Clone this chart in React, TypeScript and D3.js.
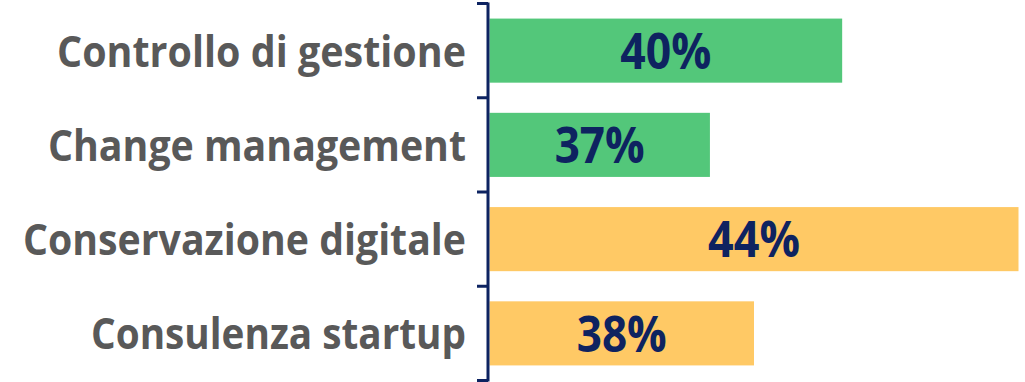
import React, { useEffect, useRef } from 'react';
import * as d3 from 'd3';

const categories = ['Controllo di gestione', 'Change management', 'Conservazione digitale', 'Consulenza startup'];
const values = [40, 37, 44, 38];
const groups = ['green', 'green', 'yellow', 'yellow'];
// label widths (Calibri is not installed, so text is squeezed to fit)
const labelWidths = [409, 418, 443, 375];
const valueWidths = [91, 90, 92, 90];

const colors: Record<string, string> = { green: '#53c77a', yellow: '#ffc965' };

const App = () => {
  const chartRef = useRef<SVGSVGElement>(null);

  useEffect(() => {
    if (!chartRef.current) return;
    const svg = d3.select(chartRef.current);
    svg.selectAll('*').remove();

    const width = 1025;
    const height = 382;
    const axisX = 488;

    const y = d3.scaleBand<string>()
      .domain(categories)
      .range([3.5, 380.5]);

    const yBar = d3.scaleBand<string>()
      .domain(categories)
      .range([3.5, 380.5])
      .paddingInner(0.32)
      .paddingOuter(0.16);

    const x = d3.scaleLinear()
      .domain([32, 44])
      .range([axisX + 1.5, 1018.5]);

    const data = categories.map((c, i) => ({ cat: c, value: values[i], group: groups[i], lw: labelWidths[i], vw: valueWidths[i] }));

    // bars
    svg.selectAll('.bar')
      .data(data)
      .enter().append('rect')
      .attr('class', 'bar')
      .attr('x', x(32))
      .attr('y', d => yBar(d.cat)!)
      .attr('width', d => x(d.value) - x(32))
      .attr('height', yBar.bandwidth())
      .attr('fill', d => colors[d.group]);

    // axis line + ticks at band boundaries
    const bounds = categories.map(c => y(c)!).concat([y.range()[1]]);
    svg.append('line')
      .attr('x1', axisX).attr('x2', axisX)
      .attr('y1', bounds[0] - 1).attr('y2', bounds[bounds.length - 1] + 1)
      .attr('stroke', '#0d2361').attr('stroke-width', 3);
    svg.selectAll('.tick')
      .data(bounds)
      .enter().append('line')
      .attr('class', 'tick')
      .attr('x1', axisX - 11).attr('x2', axisX)
      .attr('y1', d => d).attr('y2', d => d)
      .attr('stroke', '#0d2361').attr('stroke-width', 3);

    // category labels
    svg.selectAll('.cat')
      .data(data)
      .enter().append('text')
      .attr('class', 'cat')
      .attr('x', 466)
      .attr('y', d => y(d.cat)! + y.bandwidth() / 2 + 16)
      .attr('text-anchor', 'end')
      .attr('font-family', '"Open Sans", sans-serif')
      .attr('font-weight', 700)
      .attr('font-size', 43)
      .attr('fill', '#595959')
      .attr('textLength', d => d.lw)
      .attr('lengthAdjust', 'spacingAndGlyphs')
      .text(d => d.cat);

    // value labels
    svg.selectAll('.val')
      .data(data)
      .enter().append('text')
      .attr('class', 'val')
      .attr('x', d => (x(32) + x(d.value)) / 2)
      .attr('y', d => yBar(d.cat)! + yBar.bandwidth() / 2 + 18.3)
      .attr('text-anchor', 'middle')
      .attr('font-family', '"Open Sans", sans-serif')
      .attr('font-weight', 700)
      .attr('font-size', 51)
      .attr('fill', '#0e2360')
      .attr('textLength', d => d.vw)
      .attr('lengthAdjust', 'spacingAndGlyphs')
      .text(d => `${d.value}%`);

    svg.attr('width', width).attr('height', height);
  }, []);

  return (
    <svg ref={chartRef} width={1025} height={382}
      style={{ position: 'absolute', left: 0, top: 0, background: '#fff' }}></svg>
  );
};

export default App;
